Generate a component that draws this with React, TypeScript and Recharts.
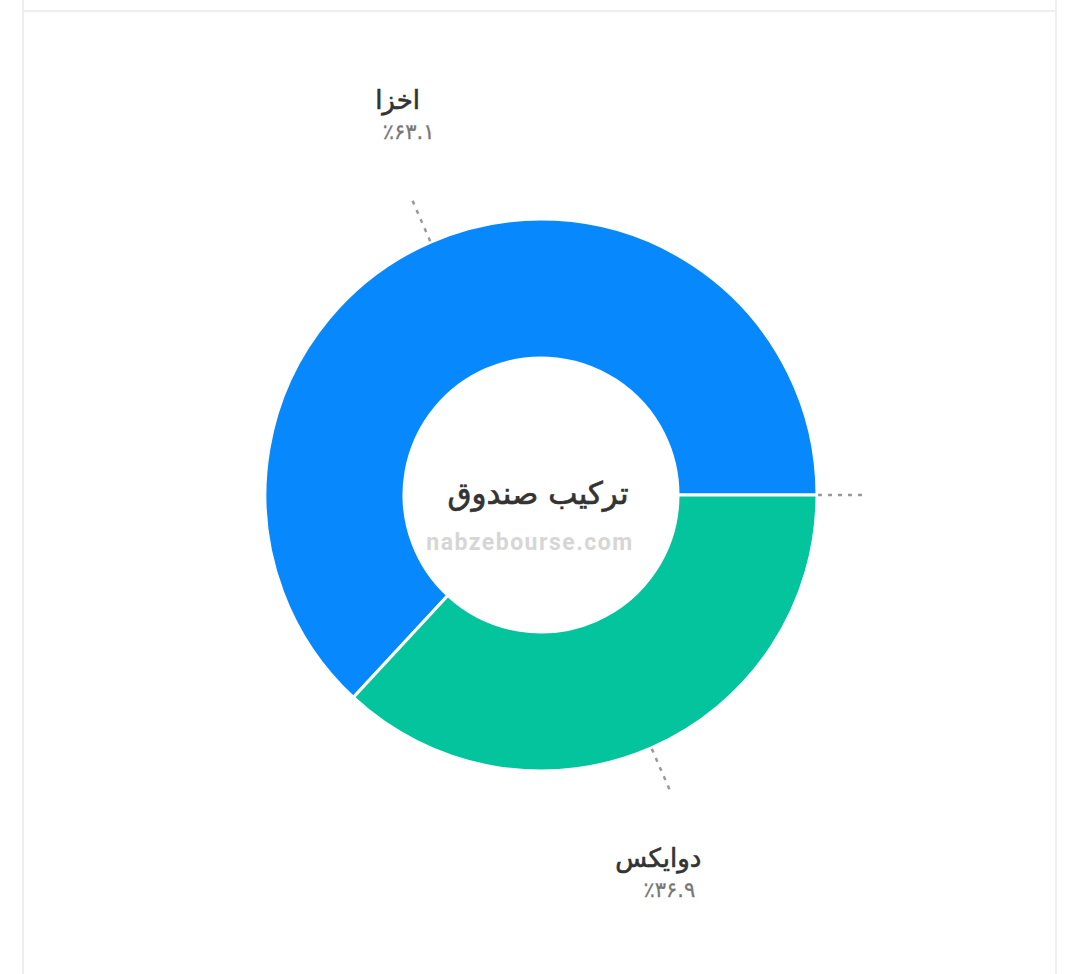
import React from 'react';
import { PieChart, Pie, Cell } from 'recharts';

// fund composition (percent)
const names = ['اخزا', 'دوایکس', ''];
const values = [63.1, 36.9, 0];
const colors = ['#0788FC', '#03C49D', '#B0B0B0'];

const centerTitle = 'ترکیب صندوق';
const watermark = 'nabzebourse.com';

const data = names.map((name, i) => ({ name, value: values[i] }));

const FA_DIGITS = '۰۱۲۳۴۵۶۷۸۹';
const toFa = (s: string) => s.replace(/[0-9]/g, (d) => FA_DIGITS[Number(d)]);

const RAD = Math.PI / 180;
const FONT = "'DejaVu Sans', sans-serif";

function renderLabel(props: any) {
  const { cx, cy, midAngle, outerRadius, value, name } = props;
  const cos = Math.cos(-midAngle * RAD);
  const sin = Math.sin(-midAngle * RAD);
  const x1 = cx + (outerRadius + 1) * cos;
  const y1 = cy + (outerRadius + 1) * sin;
  const x2 = cx + (outerRadius + 50) * cos;
  const y2 = cy + (outerRadius + 50) * sin;
  const side = sin < 0 ? -1 : 1;
  const blockY = y2 + side * 80;
  return (
    <g>
      <line x1={x1} y1={y1} x2={x2} y2={y2} stroke="#999" strokeWidth={2.5} strokeDasharray="4 6" />
      {value > 0 && (
        <>
          <text x={x2 - 13} y={blockY - 7} textAnchor="middle" fill="#333" stroke="#333" strokeWidth={0.6} fontSize={26} fontFamily={FONT}>
            {name}
          </text>
          <text x={x2 - 2} y={blockY + 23} textAnchor="middle" fill="#777" stroke="#777" strokeWidth={0.3} fontSize={21} fontFamily={FONT}>
            {'٪' + toFa(value.toFixed(1))}
          </text>
        </>
      )}
    </g>
  );
}

export default function App() {
  return (
    <div style={{ position: 'fixed', left: 0, top: 0, width: 1080, height: 974, background: '#fff' }}>
      {/* card edges */}
      <div style={{ position: 'absolute', left: 22, top: 0, width: 2, height: 974, background: '#EEEEEE' }} />
      <div style={{ position: 'absolute', left: 1055, top: 0, width: 2, height: 974, background: '#EEEEEE' }} />
      <div style={{ position: 'absolute', left: 24, top: 10, width: 1031, height: 2, background: '#EEEEEE' }} />
      <PieChart width={1080} height={974} margin={{ top: 0, right: 0, bottom: 0, left: 0 }} style={{ position: 'absolute', left: 0, top: 0 }}>
        <Pie
          data={data}
          dataKey="value"
          nameKey="name"
          cx={541}
          cy={495}
          innerRadius={137}
          outerRadius={276}
          startAngle={0}
          endAngle={360}
          stroke="#fff"
          strokeWidth={3}
          label={renderLabel}
          labelLine={false}
          isAnimationActive={false}
        >
          {data.map((d, i) => (
            <Cell key={i} fill={colors[i]} />
          ))}
        </Pie>
        <text x={530} y={550} textAnchor="middle" fill="#D6D6D6" fontSize={23} fontWeight={700} letterSpacing={1.5} fontFamily="Roboto, sans-serif">
          {watermark}
        </text>
        <text x={538} y={504} textAnchor="middle" fill="#333" stroke="#333" strokeWidth={0.7} fontSize={31} fontFamily={FONT}>
          {centerTitle}
        </text>
      </PieChart>
    </div>
  );
}
